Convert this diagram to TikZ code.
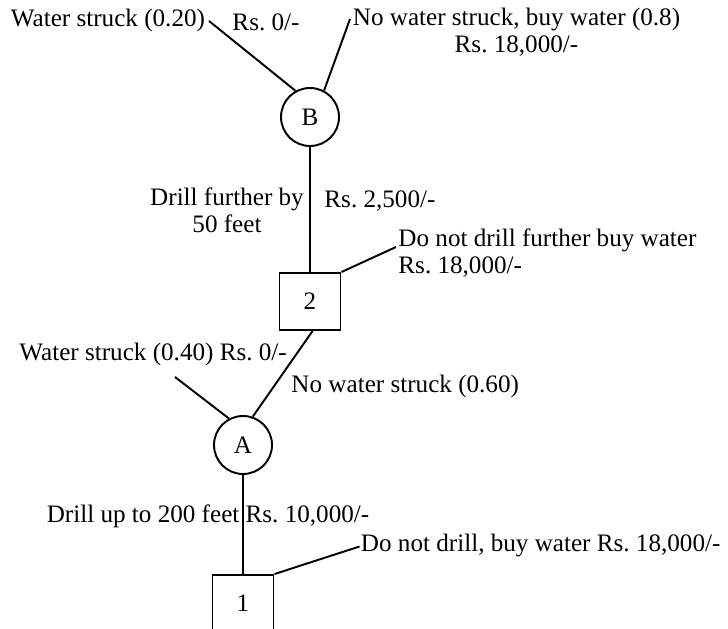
\documentclass[tikz,border=0pt]{standalone}
\usepackage{fontspec}
\setmainfont{Liberation Serif}
\usepackage{tikz}
\usetikzlibrary{positioning,calc}
\frenchspacing

\begin{document}
\begin{tikzpicture}[line width=1.1pt, every node/.style={font=\fontsize{14.3}{15.5}\selectfont},
  chance/.style={circle, draw, minimum size=1.16cm, inner sep=0pt},
  decision/.style={rectangle, draw, minimum width=1.22cm, minimum height=1.14cm, inner sep=0pt},
  lbl/.style={inner sep=0pt}]
\useasboundingbox (0,0) rectangle (14.56,12.56);
% decision and chance nodes
\node[chance] (B) at (6.2,10.22) {B};
\node[decision] (d2) at (6.2,6.53) {2};
\node[chance] (A) at (4.86,3.66) {A};
\node[decision] (d1) at (4.86,0.49) {1};
% free ends of the branches
\coordinate (bwl) at (4.18,12.14);
\coordinate (bwr) at (7.0,12.18);
\coordinate (dnf) at (7.92,7.62);
\coordinate (awl) at (3.5,5.02);
\coordinate (dnd) at (7.19,1.63);
% branches
\draw (B.119) -- (bwl);
\draw (B.62) -- (bwr);
\draw (B.south) -- (d2.north);
\draw (d2.north east) -- (dnf);
\draw (d2.-85) -- (A.71);
\draw (A.118) -- (awl);
\draw (A.south) -- (d1.north);
\draw (d1.north east) -- (dnd);
% labels
\node[lbl, anchor=west] (wsb) at (0.2,12.16) {Water struck (0.20)};
\node[lbl] (rsb) at (5.32,12.12) {Rs. 0/-};
\node[lbl, align=center] (nwb) at (10.33,11.92) {No water struck, buy water (0.8)\\Rs. 18,000/-};
\node[lbl, align=center] (dfb) at (4.54,8.36) {Drill further by\\50 feet};
\node[lbl, anchor=west] (rs25) at (6.47,8.53) {Rs. 2,500/-};
\node[lbl, anchor=west, align=left] (dnfl) at (7.95,7.5) {Do not drill further buy water\\Rs. 18,000/-};
\node[lbl, anchor=west] (wsa) at (0.37,5.48) {Water struck (0.40) Rs. 0/-};
\node[lbl, anchor=west] (nwa) at (5.81,4.84) {No water struck (0.60)};
\node[lbl] (dup) at (4.16,2.24) {Drill up to 200 feet Rs. 10,000/-};
\node[lbl, anchor=west] (dndl) at (7.2,1.66) {Do not drill, buy water Rs. 18,000/-};
\end{tikzpicture}
\end{document}
